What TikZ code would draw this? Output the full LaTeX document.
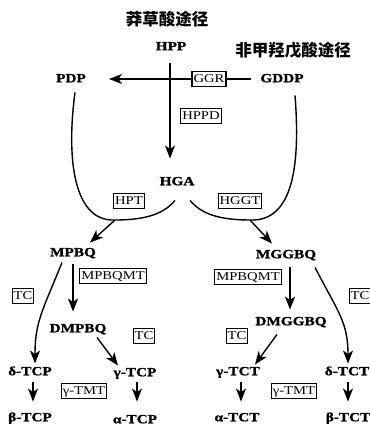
\documentclass[tikz,border=0pt]{standalone}
\usepackage{fontspec}
\setmainfont{Liberation Serif}
\newfontfamily\labfont{Liberation Serif}[FakeStretch=1.22, BoldFeatures={FakeBold=1.2}]
\newfontfamily\cjk{Noto Sans CJK SC}
\usetikzlibrary{arrows.meta,calc}
\tikzset{
  lab/.style={font=\labfont\bfseries\fontsize{12.5}{14}\selectfont, inner sep=1pt, text height=8.5pt, text depth=2pt},
  enz/.style={draw, line width=1.1pt, font=\labfont\fontsize{12}{13}\selectfont, inner xsep=1.5pt, inner ysep=2.5pt, text height=8.8pt, text depth=1.5pt},
  cjkt/.style={font=\cjk\bfseries\fontsize{16.5}{18}\selectfont, inner sep=0pt},
  ln/.style={line width=1.4pt},
  arr/.style={line width=1.4pt, -{Stealth[length=13pt,width=10pt,inset=3.5pt]}}
}
\begin{document}
\begin{tikzpicture}[x=1pt,y=-1pt]
\useasboundingbox (0,0) rectangle (369,433);
\node[cjkt] (t1) at (167,19) {莽草酸途径};
\node[lab] (HPP) at (171,47) {HPP};
\node[cjkt] (t2) at (293,50) {非甲羟戊酸途径};
\node[lab] (PDP) at (71,79) {PDP};
\node[enz] (GGR) at (209,79) {GGR};
\node[lab] (GDDP) at (282,79) {GDDP};
\node[enz] (HPPD) at (201,116) {HPPD};
\node[lab] (HGA) at (177,182) {HGA};
\node[enz] (HPT) at (129,201) {HPT};
\node[enz] (HGGT) at (240,201) {HGGT};
\node[lab] (MPBQ) at (73,253) {MPBQ};
\node[lab] (MGGBQ) at (286,255) {MGGBQ};
\node[enz] (MT1) at (113,276) {MPBQMT};
\node[enz] (MT2) at (248,277) {MPBQMT};
\node[enz] (TC1) at (23,296) {TC};
\node[enz] (TC4) at (360,296) {TC};
\node[lab] (DMPBQ) at (78,329) {DMPBQ};
\node[enz] (TC2) at (144,336) {TC};
\node[lab] (DMGGBQ) at (291,322) {DMGGBQ};
\node[enz] (TC3) at (237,336) {TC};
\node[lab] (dTCP) at (30,372) {δ-TCP};
\node[lab] (gTCP) at (135,373) {γ-TCP};
\node[lab] (gTCT) at (238,372) {γ-TCT};
\node[lab] (dTCT) at (347,372) {δ-TCT};
\node[enz] (TMT1) at (84,391) {γ-TMT};
\node[enz] (TMT2) at (294,391) {γ-TMT};
\node[lab] (bTCP) at (30,418) {β-TCP};
\node[lab] (aTCP) at (135,420) {α-TCP};
\node[lab] (aTCT) at (237,418) {α-TCT};
\node[lab] (bTCT) at (348,418) {β-TCT};
\coordinate (m1) at (115,220);
\coordinate (m2) at (250,220);
% top
\draw[arr] ($(HPP.south)+(-1,10)$) -- ($(HGA.north -| HPP.south)+(-1,-17)$);
\draw[ln] ($(GDDP.west)+(-8,0)$) -- (GGR.east);
\draw[arr] (GGR.west) -- ($(PDP.east)+(22,0)$);
% curves
\draw[ln] ($(PDP.south)+(4,7)$) .. controls (66,160) and (74,222) .. (m1)
  .. controls (150,220) and (165,212) .. ($(HGA.south)+(-2,12)$);
\draw[ln] ($(GDDP.south)+(13,10)$) .. controls (300,160) and (295,222) .. (m2)
  .. controls (215,220) and (200,212) .. ($(HGA.south)+(13,12)$);
\draw[arr] (m1) -- ($(MPBQ.north)+(17,-4)$);
\draw[arr] (m2) -- ($(MGGBQ.north)+(-14,-5)$);
% left branch
\draw[arr] ($(MPBQ.south)+(0,5)$) -- ($(DMPBQ.north -| MPBQ.south)+(0,-11)$);
\draw[arr] ($(MPBQ.south)+(-11,3)$) .. controls (42,312) and (35,322) .. ($(dTCP.north)+(5,-2)$);
\draw[arr] ($(DMPBQ.south)+(19,2)$) -- ($(gTCP.north)+(-17,-1)$);
\draw[arr] ($(dTCP.south)+(3,4)$) -- ($(bTCP.north)+(3,-10)$);
\draw[arr] ($(gTCP.south)+(2,3)$) -- ($(aTCP.north)+(2,-12)$);
% right branch
\draw[arr] ($(MGGBQ.south)+(4,6)$) -- ($(DMGGBQ.north)+(-1,-6)$);
\draw[arr] ($(MGGBQ.south)+(29,6)$) .. controls (338,312) and (348,322) .. ($(dTCT.north)+(1,-2)$);
\draw[arr] ($(DMGGBQ.south)+(-14,6)$) -- ($(gTCT.north)+(17,-1)$);
\draw[arr] ($(gTCT.south)+(3,4)$) -- ($(aTCT.north)+(4,-10)$);
\draw[arr] ($(dTCT.south)+(1,4)$) -- ($(bTCT.north)+(0,-10)$);
\end{tikzpicture}
\end{document}
